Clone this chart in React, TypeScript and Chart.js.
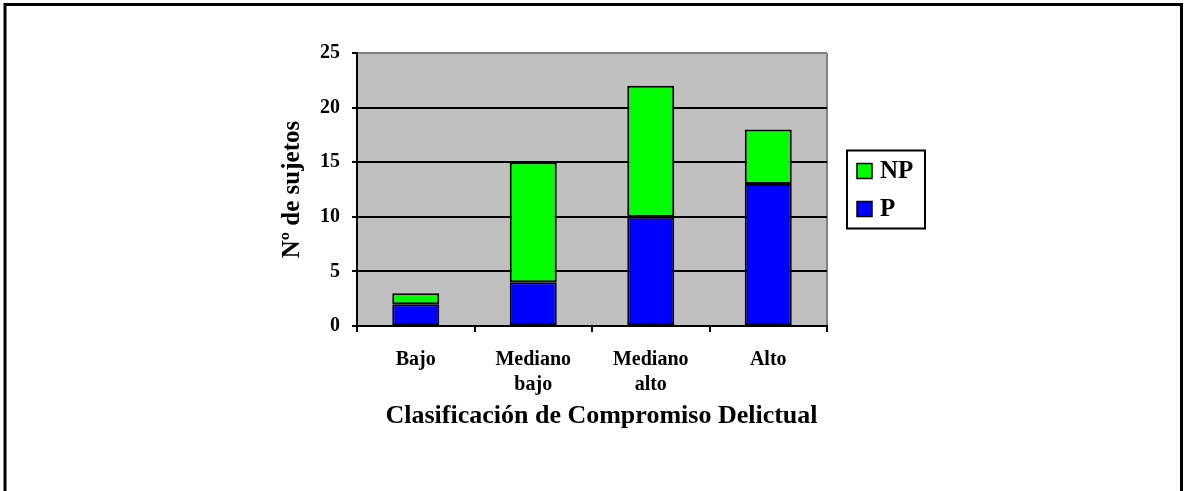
import React, { useEffect, useRef } from 'react';
import { Chart, registerables } from 'chart.js';

Chart.register(...registerables);

const categories: string[][] = [['Bajo'], ['Mediano', 'bajo'], ['Mediano', 'alto'], ['Alto']];
const seriesP: number[] = [2, 4, 10, 13];
const seriesNP: number[] = [1, 11, 12, 5];
const yTickMin = 0;
const yTickMax = 25;
const yTickStep = 5;
const yTitle = 'Nº de sujetos';
const xTitle = 'Clasificación de Compromiso Delictual';
const seriesNames = ['P', 'NP'];

const FONT = '"Liberation Serif", "Times New Roman", serif';

const framePlugin = {
  id: 'framePlugin',
  beforeDraw(chart: any) {
    const { ctx, chartArea } = chart;
    ctx.save();
    ctx.fillStyle = '#ffffff';
    ctx.fillRect(0, 0, chart.width, chart.height);
    // outer frame
    ctx.strokeStyle = '#000000';
    ctx.lineWidth = 3;
    ctx.beginPath();
    ctx.moveTo(5, chart.height + 10);
    ctx.lineTo(5, 4.5);
    ctx.lineTo(1181.5, 4.5);
    ctx.lineTo(1181.5, chart.height + 10);
    ctx.stroke();
    // plot background
    ctx.fillStyle = '#c0c0c0';
    ctx.fillRect(chartArea.left, chartArea.top, chartArea.right - chartArea.left, chartArea.bottom - chartArea.top);
    ctx.strokeStyle = '#808080';
    ctx.lineWidth = 2;
    ctx.beginPath();
    ctx.moveTo(chartArea.right, chartArea.top);
    ctx.lineTo(chartArea.right, chartArea.bottom);
    ctx.stroke();
    ctx.restore();
  },
  afterDraw(chart: any) {
    const { ctx, chartArea } = chart;
    ctx.save();
    // legend
    const boxLeft = chartArea.right + 20;
    const boxW = 78;
    const boxH = 78;
    const cy = (chartArea.top + chartArea.bottom) / 2;
    const boxTop = cy - boxH / 2;
    ctx.fillStyle = '#ffffff';
    ctx.fillRect(boxLeft, boxTop, boxW, boxH);
    ctx.strokeStyle = '#000000';
    ctx.lineWidth = 2;
    ctx.strokeRect(boxLeft, boxTop, boxW, boxH);
    const ds = chart.data.datasets.slice().reverse();
    ds.forEach((d: any, i: number) => {
      const iy = boxTop + 21 + i * 38;
      ctx.fillStyle = d.backgroundColor;
      ctx.fillRect(boxLeft + 10, iy - 8, 15, 15);
      ctx.lineWidth = 1.5;
      ctx.strokeStyle = '#000000';
      ctx.strokeRect(boxLeft + 10, iy - 8, 15, 15);
      ctx.fillStyle = '#000000';
      ctx.font = `bold 25px ${FONT}`;
      ctx.textBaseline = 'middle';
      ctx.textAlign = 'left';
      ctx.fillText(d.label, boxLeft + 33, iy);
    });
    // x title
    const yScale = chart.scales.y;
    const cx = (yScale.left + boxLeft + boxW) / 2;
    ctx.font = `bold 26px ${FONT}`;
    ctx.textAlign = 'center';
    ctx.textBaseline = 'middle';
    ctx.fillStyle = '#000000';
    ctx.fillText(xTitle, cx, 416);
    ctx.restore();
  },
};

export default function App() {
  const ref = useRef<HTMLCanvasElement | null>(null);
  useEffect(() => {
    if (!ref.current) return;
    const chart = new Chart(ref.current, {
      type: 'bar',
      data: {
        labels: categories,
        datasets: [
          {
            label: seriesNames[0],
            data: seriesP,
            backgroundColor: '#0000ff',
            borderColor: '#000000',
            borderWidth: 2,
            borderSkipped: false,
            barPercentage: 0.4,
            categoryPercentage: 1,
          },
          {
            label: seriesNames[1],
            data: seriesNP,
            backgroundColor: '#00ff00',
            borderColor: '#000000',
            borderWidth: 2,
            borderSkipped: false,
            barPercentage: 0.4,
            categoryPercentage: 1,
          },
        ],
      },
      options: {
        responsive: false,
        animation: false,
        layout: { padding: { left: 278, top: 53, right: 357, bottom: 63 } },
        plugins: {
          legend: { display: false },
          tooltip: { enabled: false },
          title: { display: false },
        },
        scales: {
          x: {
            stacked: true,
            offset: true,
            afterFit: (s: any) => { s.height = 102; },
            grid: {
              offset: true,
              drawOnChartArea: false,
              drawTicks: true,
              tickLength: 6,
              color: '#000000',
              lineWidth: 2,
            },
            border: { display: true, color: '#000000', width: 2 },
            ticks: {
              color: '#000000',
              padding: 15,
              maxRotation: 0,
              autoSkip: false,
              font: { family: FONT, size: 20, weight: 'bold', lineHeight: 1.25 },
            },
          },
          y: {
            stacked: true,
            min: yTickMin,
            max: yTickMax,
            afterFit: (s: any) => { s.width = 79; },
            grid: {
              color: (c: any) => (c.tick && c.tick.value === yTickMax ? '#808080' : '#000000'),
              lineWidth: 2,
              drawTicks: true,
              tickLength: 5,
              tickColor: '#000000',
            },
            border: { display: true, color: '#000000', width: 2 },
            ticks: {
              stepSize: yTickStep,
              color: '#000000',
              padding: 12,
              font: { family: FONT, size: 20, weight: 'bold' },
            },
            title: {
              display: true,
              text: yTitle,
              color: '#000000',
              padding: 0,
              font: { family: FONT, size: 25, weight: 'bold', lineHeight: 1.2 },
            },
          },
        },
      },
      plugins: [framePlugin],
    });
    return () => chart.destroy();
  }, []);
  return (
    <div style={{ position: 'fixed', left: 0, top: 0, width: 1184, height: 491 }}>
      <canvas ref={ref} width={1184} height={491} style={{ display: 'block' }} />
    </div>
  );
}
